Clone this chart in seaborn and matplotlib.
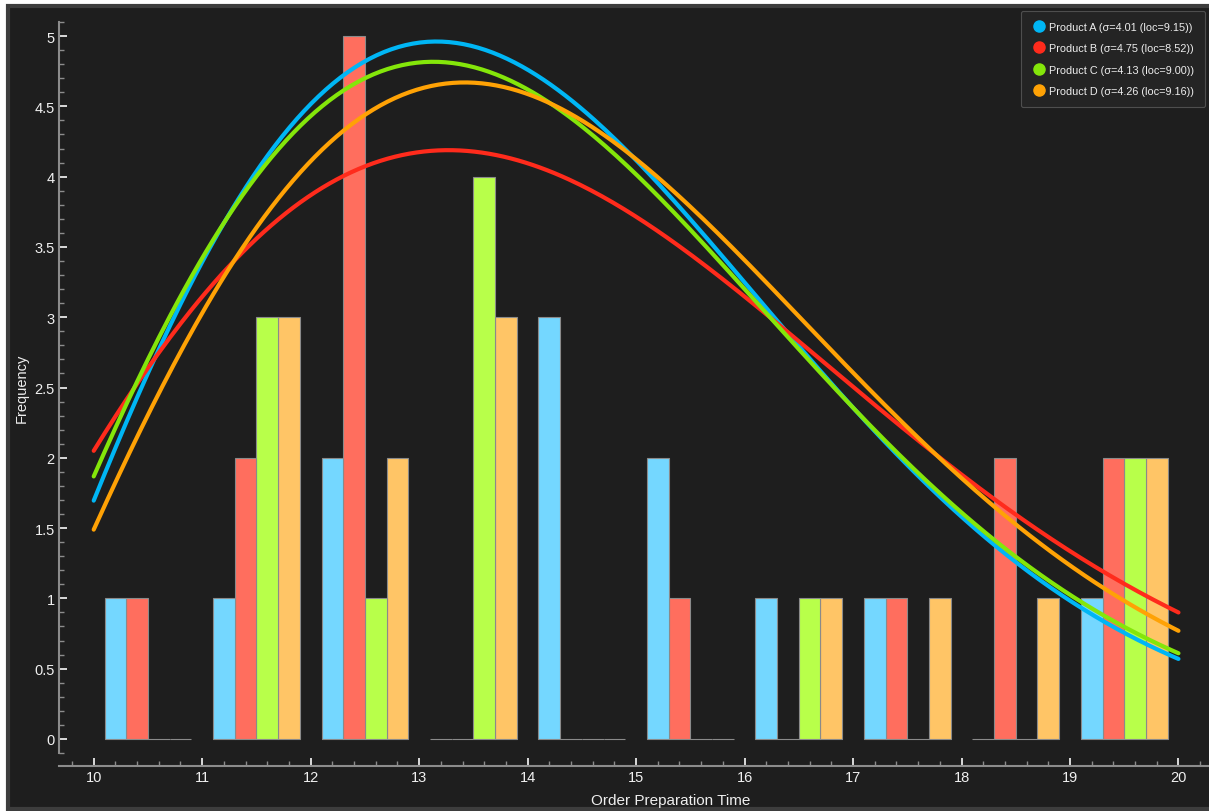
import numpy as np
import pandas as pd
import matplotlib
matplotlib.use("Agg")
import matplotlib.pyplot as plt
from matplotlib.lines import Line2D
from matplotlib.patches import Rectangle
from matplotlib.ticker import MultipleLocator
import seaborn as sns

# --- data ---
products = ['Product A', 'Product B', 'Product C', 'Product D']
bin_edges = [10, 11, 12, 13, 14, 15, 16, 17, 18, 19, 20]
counts_a = [1, 1, 2, 0, 3, 2, 1, 1, 0, 1]
counts_b = [1, 2, 5, 0, 0, 1, 0, 1, 2, 2]
counts_c = [0, 3, 1, 4, 0, 0, 1, 0, 0, 2]
counts_d = [0, 3, 2, 3, 0, 0, 1, 1, 1, 2]

# fitted curve parameters (legend) and the curve height scale
fit_sigma = [4.01, 4.75, 4.13, 4.26]
fit_loc = [9.15, 8.52, 9.00, 9.16]
fit_scale = 32.8

bar_colors = ['#74d7ff', '#ff6e5e', '#b8ff4a', '#ffc566']
line_colors = ['#00b6f5', '#ff2b1c', '#84e60a', '#ffa205']

BG = '#1e1e1e'

rows = []
for name, cnts in zip(products, [counts_a, counts_b, counts_c, counts_d]):
    for left, c in zip(bin_edges[:-1], cnts):
        rows.append({'time': left + 0.5, 'count': c, 'product': name})
df = pd.DataFrame(rows)

sns.set_style('dark')
plt.rcParams['font.family'] = ['Liberation Sans', 'DejaVu Sans']

W, H = 1209, 812
fig = plt.figure(figsize=(W / 100, H / 100), dpi=100)
fig.patch.set_facecolor('white')
# dark window with a grey frame
frame = Rectangle((8 / W, 2 / H), 1.1, (805 - 2) / H, transform=fig.transFigure,
                  facecolor=BG, edgecolor='#3d3d3d', linewidth=3, zorder=-10)
fig.add_artist(frame)

ax_l, ax_r, ax_t, ax_b = 59, 1211, 23, 754
ax = fig.add_axes([ax_l / W, 1 - ax_b / H, (ax_r - ax_l) / W, (ax_b - ax_t) / H])
ax.set_facecolor('none')

sns.histplot(data=df, x='time', weights='count', hue='product', hue_order=products,
             bins=bin_edges, multiple='dodge', shrink=0.8, palette=bar_colors,
             alpha=1, edgecolor='#8a8a8a', linewidth=0.8, legend=False, ax=ax)

xs = np.linspace(10, 20, 300)
curves = []
for name, s, loc in zip(products, fit_sigma, fit_loc):
    z = xs - loc
    y = fit_scale * z / s ** 2 * np.exp(-z ** 2 / (2 * s ** 2))
    curves.append(pd.DataFrame({'x': xs, 'y': y, 'product': name}))
curves = pd.concat(curves)
sns.lineplot(data=curves, x='x', y='y', hue='product', hue_order=products,
             palette=line_colors, linewidth=3, legend=False, ax=ax,
             solid_capstyle='round')

ax.set_xlim(9.68, 20.3)
ax.set_ylim(-0.1, 5.1)
ax.grid(False)

for side in ['top', 'right']:
    ax.spines[side].set_visible(False)
ax.spines['bottom'].set_position(('outward', 9.4))
for side in ['left', 'bottom']:
    ax.spines[side].set_color('#8c8c8c')
    ax.spines[side].set_linewidth(1.5)

ax.xaxis.set_major_locator(MultipleLocator(1))
ax.xaxis.set_minor_locator(MultipleLocator(0.2))
ax.yaxis.set_major_locator(MultipleLocator(0.5))
ax.yaxis.set_minor_locator(MultipleLocator(0.1))
ax.yaxis.set_major_formatter(matplotlib.ticker.FuncFormatter(lambda v, p: f'{v:g}'))
ax.tick_params(which='major', direction='in', length=6, width=1.3, color='#e8e8e8',
               labelcolor='#f0f0f0', labelsize=10.5, pad=3)
ax.tick_params(which='minor', direction='in', length=3.5, width=1, color='#8c8c8c')
ax.tick_params(axis='x', which='both', bottom=True)
ax.tick_params(axis='y', which='both', left=True)

ax.set_xlabel('Order Preparation Time', color='#eeeeee', fontsize=11, va='center')
ax.set_ylabel('Frequency', color='#eeeeee', fontsize=10.5, va='center')
ax.xaxis.set_label_coords((671 - ax_l) / (ax_r - ax_l), -(801 - ax_b) / (ax_b - ax_t))
ax.yaxis.set_label_coords(-(ax_l - 22) / (ax_r - ax_l), 0.5)

handles = [Line2D([], [], linestyle='none', marker='o', markersize=8,
                  markerfacecolor=c, markeredgecolor=c) for c in line_colors]
labels = [f'{n} (σ={s:.2f} (loc={l:.2f}))' for n, s, l in zip(products, fit_sigma, fit_loc)]
leg = fig.legend(handles, labels, loc='upper right', bbox_to_anchor=(1205 / W, 1 - 12 / H),
                 borderaxespad=0, fontsize=7.8, frameon=True, facecolor='#262626',
                 edgecolor='#5a5a5a', labelcolor='#eeeeee', handletextpad=0.3,
                 handlelength=1.3, labelspacing=1.05, borderpad=1.0, fancybox=True)
leg.get_frame().set_linewidth(0.8)

fig.savefig('out.png', dpi=100)
